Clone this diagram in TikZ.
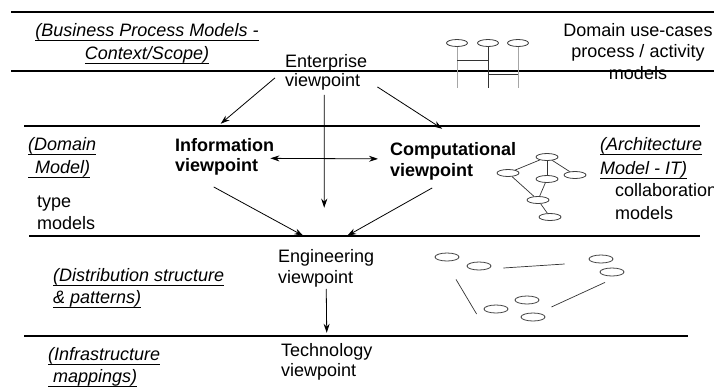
\documentclass[tikz,border=0pt]{standalone}
\usepackage{fontspec}
\setmainfont{Liberation Sans}
\usetikzlibrary{shapes.geometric, arrows.meta, positioning}
\tikzstyle{arrow} = [line width=0.8pt, ->, >={Stealth[length=9pt, width=6pt]}]
\tikzstyle{rule} = [line width=1.1pt]
\tikzstyle{txt} = [inner sep=0pt, anchor=base west, align=left, font=\fontsize{18}{21}\selectfont]
\tikzstyle{oval} = [draw=black!75, ellipse, line width=0.8pt, minimum width=24pt, minimum height=8pt, inner sep=0pt]
\tikzstyle{link} = [line width=0.7pt, black!80]
\newcommand{\modelnote}[1]{\setbox0\hbox{\textit{#1}}\leavevmode\rlap{\raisebox{-5pt}{\rule{\wd0}{1.2pt}}}\box0}

\begin{document}
\begin{tikzpicture}[x=1pt, y=-1pt]
    \useasboundingbox (0,0) rectangle (714,388);

    % Layer rules
    \draw[rule] (11,12) -- (714,12);
    \draw[rule] (11,71) -- (714,71);
    \draw[rule] (24,126) -- (700,126);
    \draw[rule] (29,236) -- (700,236);
    \draw[rule] (24,336) -- (688,336);

    % Nodes (viewpoints), placed at the baseline of their last line
    \node[txt, font=\fontsize{18}{19}\selectfont] (ent) at (285,86) {Enterprise\\viewpoint};
    \node[txt, font=\fontsize{18}{20}\selectfont\bfseries] (info) at (175,171) {Information\\viewpoint};
    \node[txt, font=\fontsize{18}{21}\selectfont\bfseries] (comp) at (390,176) {Computational\\viewpoint};
    \node[txt] (eng) at (278,283) {Engineering\\viewpoint};
    \node[txt, font=\fontsize{18}{20}\selectfont] (tech) at (281,376) {Technology\\viewpoint};

    % Nodes (left notes)
    \node[txt, anchor=base, align=center, font=\fontsize{18}{23}\selectfont] (bpm) at (147,59)
        {\modelnote{(Business Process Models -}\\\modelnote{Context/Scope)}};
    \node[txt, font=\fontsize{18}{23}\selectfont] (dom) at (28,173) {\modelnote{(Domain}\\\modelnote{\hspace{7pt}Model)}};
    \node[txt, font=\fontsize{18}{22}\selectfont] (typ) at (37,229) {type\\models};
    \node[txt, font=\fontsize{18}{22}\selectfont] (dist) at (53,303) {\modelnote{(Distribution structure}\\\modelnote{\& patterns)}};
    \node[txt, font=\fontsize{18}{22}\selectfont] (infra) at (48,382) {\modelnote{(Infrastructure}\\\modelnote{\hspace{5pt}mappings)}};

    % Nodes (right notes)
    \node[txt, anchor=base, align=center, font=\fontsize{18}{21.5}\selectfont] (uc) at (638,79)
        {Domain use-cases\\process / activity\\models};
    \node[txt, font=\fontsize{18}{24}\selectfont] (arch) at (600,174) {\modelnote{(Architecture}\\\modelnote{Model - IT)}};
    \node[txt, font=\fontsize{18}{23}\selectfont] (collab) at (615,219) {collaboration\\models};

    % Edges (viewpoint arrows)
    \draw[arrow] ([xshift=-10pt, yshift=-6pt]ent.west) -- ([xshift=-4pt, yshift=14pt]info.north);
    \draw[arrow] ([xshift=10pt, yshift=3pt]ent.south east) -- ([xshift=-11pt, yshift=13pt]comp.north);
    \draw[arrow] ([xshift=-2pt, yshift=-5pt]ent.south) -- ([xshift=-2pt, yshift=41pt]eng.north);
    \draw[arrow, <->] ([xshift=-4pt, yshift=-2pt]info.east) -- ([xshift=-12pt, yshift=2pt]comp.west);
    \draw[arrow] ([xshift=-11pt, yshift=-12pt]info.south) -- ([xshift=-23pt, yshift=13pt]eng.north);
    \draw[arrow] ([xshift=-21pt, yshift=-8pt]comp.south) -- ([xshift=21pt, yshift=13pt]eng.north);
    \draw[arrow] ([yshift=-2pt]eng.south) -- ([yshift=10pt]tech.north);

    % Use-case icon
    \node[oval, minimum width=21pt, minimum height=7pt] (u1) at (457,43) {};
    \node[oval, minimum width=21pt, minimum height=7pt] (u2) at (488,43) {};
    \node[oval, minimum width=21pt, minimum height=7pt] (u3) at (518,43) {};
    \coordinate (u1e) at (457,88);
    \coordinate (u2e) at (488,88);
    \coordinate (u3e) at (518,88);
    \coordinate (bar1) at (0,60);
    \coordinate (bar2) at (0,74);
    \draw[line width=1pt, black!35] (u1) -- (u1e);
    \draw[line width=1pt, black!35] (u3) -- (u3e);
    \draw[link, line width=1pt] (u2) -- (u2e);
    \draw[link, line width=1pt] (u1 |- bar1) -- (u2 |- bar1);
    \draw[link, line width=1pt] (u2 |- bar2) -- (u3 |- bar2);

    % Architecture graph
    \node[oval, minimum width=22pt, minimum height=7pt] (a1) at (547,157) {};
    \node[oval, minimum width=22pt, minimum height=7pt] (a2) at (508,173) {};
    \node[oval, minimum width=22pt, minimum height=7pt] (a3) at (547,179) {};
    \node[oval, minimum width=22pt, minimum height=7pt] (a4) at (575,175) {};
    \node[oval, minimum width=22pt, minimum height=7pt] (a5) at (538,200) {};
    \node[oval, minimum width=22pt, minimum height=7pt] (a6) at (550,217) {};
    \draw[link] (a2) -- (a1);
    \draw[link] (a1) -- (a3);
    \draw[link] (a1) -- (a4);
    \draw[link] (a2) -- (a5);
    \draw[link] (a3) -- (a5);
    \draw[link] (a5) -- (a6);

    % Distribution cluster
    \node[oval] (c1) at (447,257) {};
    \node[oval] (c2) at (479,266) {};
    \node[oval] (c3) at (601,259) {};
    \node[oval] (c4) at (612,272) {};
    \node[oval] (c5) at (496,309) {};
    \node[oval] (c6) at (527,300) {};
    \node[oval] (c7) at (533,317) {};
    \draw[link] ([xshift=12pt, yshift=-2pt]c2.east) -- ([xshift=-24pt, yshift=-5pt]c3.west);
    \draw[link] ([xshift=9pt, yshift=-18pt]c1.south) -- ([xshift=-7pt, yshift=-5pt]c5.west);
    \draw[link] ([xshift=12pt, yshift=-7pt]c6.east) -- ([xshift=-7pt, yshift=-6pt]c4.south);
\end{tikzpicture}
\end{document}
